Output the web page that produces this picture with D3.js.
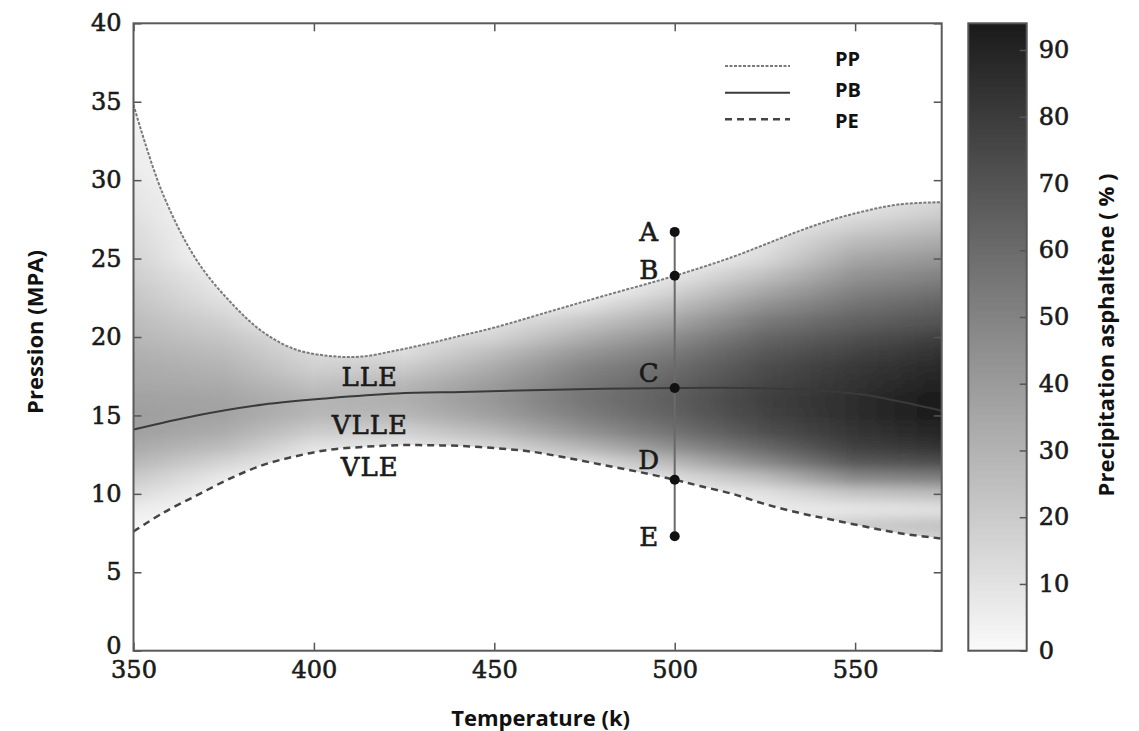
<!DOCTYPE html>
<html>
<head>
<meta charset="utf-8">
<script src="https://cdn.jsdelivr.net/npm/d3@7"></script>
<style>
  body { margin: 0; background: #fff; }
  .axis text { font-family: "DejaVu Serif", serif; font-size: 24px; fill: #1a1a1a; stroke: #1a1a1a; stroke-width: 0.6px; }
  .axis line { stroke: #555; stroke-width: 1.5; }
  .axis-title { font-family: "Open Sans", sans-serif; font-weight: 700; font-size: 22px; fill: #111; }
  .legend-label { font-family: "Open Sans", sans-serif; font-weight: 700; font-size: 20px; fill: #111; }
  .point-label, .region-label { font-family: "DejaVu Serif", serif; font-size: 26px; fill: #1a1a1a; stroke: #1a1a1a; stroke-width: 0.6px; }
  .region-label { letter-spacing: 1px; }
</style>
</head>
<body>
<div id="chart"></div>
<script>
// ---- values (T in K, P in MPa) ----
const ppCurve = [[350, 34.8], [358, 29.2], [367.5, 24.9], [377, 22.2], [386, 20.3], [395, 19.2],
  [404, 18.8], [413, 18.75], [423, 19.15], [432, 19.6], [441, 20.1], [450, 20.6], [465, 21.6],
  [480, 22.6], [500, 23.9], [516, 25.1], [525, 25.9], [535, 26.8], [544, 27.5], [553, 28.05],
  [562, 28.45], [574, 28.6]];

const pbCurve = [[350, 14.1], [367.5, 15.0], [386, 15.7], [404, 16.1], [423, 16.4], [441, 16.5],
  [460, 16.6], [480, 16.7], [500, 16.75], [520, 16.75], [535, 16.65], [553, 16.3], [562, 15.9],
  [574, 15.3]];

const peCurve = [[350, 7.6], [358, 8.76], [367.5, 9.9], [377, 11.0], [386, 11.85], [395, 12.4],
  [404, 12.8], [414, 13.0], [423, 13.1], [432, 13.1], [441, 13.05], [451, 12.9], [460, 12.7],
  [470, 12.3], [480, 11.85], [490, 11.4], [500, 10.9], [507, 10.5], [516, 10.0], [525, 9.35],
  [535, 8.76], [544, 8.33], [553, 7.9], [562, 7.5], [574, 7.15]];

// points on the isotherm T = 500 K
const pointNames = ['A', 'B', 'C', 'D', 'E'];
const pointPressures = [26.7, 23.9, 16.75, 10.9, 7.3];
const pointTemp = 500;

const regionNames = ['LLE', 'VLLE', 'VLE'];
const regionPressures = [17.5, 14.4, 11.75];
const regionTemp = 415.5;

// precipitated asphaltene (%) on a coarse grid
const gridTemps = [350, 375, 400, 425, 450, 475, 500, 525, 550, 574];
const gridPressures = [35, 34, 33, 32, 31, 30, 29, 28, 27, 26, 25, 24, 23, 22, 21, 20, 19, 18,
  17, 16, 15, 14, 13, 12, 11, 10, 9, 8, 7];
const gridValues = [
  [2, 0, 0, 0, 0, 0, 0, 0, 0, 0],
  [3, 0, 0, 0, 0, 0, 0, 0, 0, 0],
  [4, 0, 0, 0, 0, 0, 0, 0, 0, 0],
  [5, 0, 0, 0, 0, 0, 0, 0, 0, 0],
  [6, 0, 0, 0, 0, 0, 0, 0, 0, 0],
  [7, 0, 0, 0, 0, 0, 0, 0, 0, 10],
  [9, 0, 0, 0, 0, 0, 0, 0, 6, 14],
  [10, 0, 0, 0, 0, 0, 0, 0, 10, 18],
  [12, 0, 0, 0, 0, 0, 0, 6, 18, 26],
  [14, 0, 0, 0, 0, 0, 0, 10, 27, 34],
  [16, 0, 0, 0, 0, 0, 0, 14, 35, 42],
  [18, 6, 0, 0, 0, 0, 8, 24, 43, 50],
  [21, 8, 0, 0, 0, 0, 16, 34, 50, 57],
  [23, 12, 0, 0, 0, 10, 26, 44, 57, 64],
  [26, 17, 0, 0, 10, 22, 36, 54, 64, 70],
  [28, 22, 10, 10, 16, 32, 46, 62, 71, 78],
  [31, 26, 14, 12, 26, 42, 54, 68, 77, 84],
  [33, 30, 18, 20, 34, 50, 60, 73, 82, 88],
  [35, 33, 24, 28, 40, 54, 64, 76, 84, 91],
  [37, 36, 30, 32, 42, 56, 66, 78, 86, 94],
  [38, 37, 28, 28, 38, 52, 64, 77, 86, 94],
  [38, 33, 20, 18, 28, 44, 58, 72, 83, 90],
  [34, 26, 10, 8, 15, 30, 46, 62, 78, 84],
  [28, 16, 3, 2, 5, 12, 28, 48, 68, 72],
  [20, 7, 0, 0, 0, 4, 12, 26, 48, 52],
  [13, 2, 0, 0, 0, 0, 4, 10, 22, 26],
  [6, 0, 0, 0, 0, 0, 0, 6, 8, 10],
  [2, 0, 0, 0, 0, 0, 0, 6, 20, 24],
  [0, 0, 0, 0, 0, 0, 0, 4, 12, 16]
];

const xTicks = [350, 400, 450, 500, 550];
const yTicks = [0, 5, 10, 15, 20, 25, 30, 35, 40];
const cbTicks = [0, 10, 20, 30, 40, 50, 60, 70, 80, 90];

class PhaseChart {

  constructor(_config) {
    this.config = {
      parentElement: _config.parentElement,
      containerWidth: _config.containerWidth || 1139,
      containerHeight: _config.containerHeight || 731,
      plot: { left: 133.5, right: 941.7, top: 23.3, bottom: 650.7 },
      bar: { left: 968.3, right: 1026.7 }
    };
    this.initVis();
  }

  initVis() {
    let vis = this;
    const p = vis.config.plot;

    vis.xScale = d3.scaleLinear().domain([350, 574]).range([p.left, p.right]);
    vis.yScale = d3.scaleLinear().domain([0, 40]).range([p.bottom, p.top]);
    vis.cScale = d3.scaleLinear().domain([0, 94]).range([p.bottom, p.top]);
    vis.color = d3.scaleLinear().domain([0, 94]).range(['#fafafa', '#1a1a1a']);

    vis.svg = d3.select(vis.config.parentElement)
      .append('svg')
      .attr('width', vis.config.containerWidth)
      .attr('height', vis.config.containerHeight);

    vis.defs = vis.svg.append('defs');

    vis.renderVis();
  }

  renderVis() {
    let vis = this;
    const p = vis.config.plot;
    const x = vis.xScale, y = vis.yScale;
    const curve = d3.curveCatmullRom.alpha(0.5);

    const line = d3.line().x(d => x(d[0])).y(d => y(d[1])).curve(curve);

    // clip regions: below PP and above PE
    vis.defs.append('clipPath').attr('id', 'belowPP').append('path')
      .attr('d', d3.area().x(d => x(d[0])).y0(p.bottom).y1(d => y(d[1])).curve(curve)(ppCurve));
    vis.defs.append('clipPath').attr('id', 'abovePE').append('path')
      .attr('d', d3.area().x(d => x(d[0])).y0(p.top).y1(d => y(d[1])).curve(curve)(peCurve));
    vis.defs.append('clipPath').attr('id', 'plotArea').append('rect')
      .attr('x', p.left).attr('y', p.top)
      .attr('width', p.right - p.left).attr('height', p.bottom - p.top);

    const blur = vis.defs.append('filter').attr('id', 'vblur')
      .attr('x', '-5%').attr('y', '-5%').attr('width', '110%').attr('height', '110%');
    blur.append('feGaussianBlur').attr('stdDeviation', '0 6');

    // one row per pressure, colour along T through a horizontal gradient
    const x0 = x(gridTemps[0]), x1 = x(gridTemps[gridTemps.length - 1]);
    gridPressures.forEach((pr, i) => {
      const g = vis.defs.append('linearGradient').attr('id', `row${i}`)
        .attr('gradientUnits', 'userSpaceOnUse')
        .attr('x1', x0).attr('x2', x1).attr('y1', 0).attr('y2', 0);
      g.selectAll('stop').data(gridValues[i]).join('stop')
        .attr('offset', (d, j) => (x(gridTemps[j]) - x0) / (x1 - x0))
        .attr('stop-color', d => vis.color(d));
    });

    const heat = vis.svg.append('g').attr('clip-path', 'url(#plotArea)')
      .append('g').attr('clip-path', 'url(#belowPP)')
      .append('g').attr('clip-path', 'url(#abovePE)')
      .append('g').attr('filter', 'url(#vblur)');

    heat.selectAll('rect').data(gridPressures).join('rect')
      .attr('x', x0).attr('width', x1 - x0)
      .attr('y', d => y(d + 0.5))
      .attr('height', d => y(d - 0.5) - y(d + 0.5) + 0.5)
      .attr('fill', (d, i) => `url(#row${i})`);

    // boundary curves
    const curves = vis.svg.append('g').attr('clip-path', 'url(#plotArea)').attr('fill', 'none');
    curves.append('path').attr('d', line(ppCurve))
      .attr('stroke', '#7a7a7a').attr('stroke-width', 2).attr('stroke-dasharray', '3,1.5');
    curves.append('path').attr('d', line(pbCurve))
      .attr('stroke', '#3a3a3a').attr('stroke-width', 2);
    curves.append('path').attr('d', line(peCurve))
      .attr('stroke', '#444').attr('stroke-width', 2.5).attr('stroke-dasharray', '7,5');

    // axes with inward ticks (mirrored)
    const addAxis = (axis, tx, ty) => {
      const g = vis.svg.append('g').attr('class', 'axis')
        .attr('transform', `translate(${tx},${ty})`).call(axis);
      g.select('.domain').remove();
      return g;
    };
    const yAxisG = addAxis(d3.axisLeft(y).tickValues(yTicks).tickSize(-8).tickPadding(12), p.left, 0);
    // the 0 label sits a little high so it clears the 350 label
    yAxisG.selectAll('.tick text').filter(d => d === 0).attr('dy', '0.1em');
    addAxis(d3.axisRight(y).tickValues(yTicks).tickSize(-8).tickFormat(''), p.right, 0);
    addAxis(d3.axisBottom(x).tickValues(xTicks).tickSize(-8).tickPadding(10), 0, p.bottom);
    addAxis(d3.axisTop(x).tickValues(xTicks).tickSize(-8).tickFormat(''), 0, p.top);

    vis.svg.append('rect')
      .attr('x', p.left).attr('y', p.top)
      .attr('width', p.right - p.left).attr('height', p.bottom - p.top)
      .attr('fill', 'none').attr('stroke', '#5a5a5a').attr('stroke-width', 2);

    // isotherm and its points
    vis.svg.append('line')
      .attr('x1', x(pointTemp)).attr('x2', x(pointTemp))
      .attr('y1', y(d3.max(pointPressures))).attr('y2', y(d3.min(pointPressures)))
      .attr('stroke', '#6a6a6a').attr('stroke-width', 2);

    vis.svg.selectAll('.pt').data(pointPressures).join('circle')
      .attr('class', 'pt')
      .attr('cx', x(pointTemp)).attr('cy', d => y(d)).attr('r', 5)
      .attr('fill', '#111');

    const labelShift = [0, -6, -15, -20, 0];
    vis.svg.selectAll('.point-label').data(pointPressures).join('text')
      .attr('class', 'point-label')
      .attr('x', x(pointTemp) - 26)
      .attr('y', (d, i) => y(d) + labelShift[i])
      .attr('dy', '0.36em')
      .attr('text-anchor', 'middle')
      .text((d, i) => pointNames[i]);

    vis.svg.selectAll('.region-label').data(regionPressures).join('text')
      .attr('class', 'region-label')
      .attr('x', x(regionTemp)).attr('y', d => y(d))
      .attr('dy', '0.36em')
      .attr('text-anchor', 'middle')
      .text((d, i) => regionNames[i]);

    // legend
    const legend = vis.svg.append('g');
    const legendItems = [
      { name: 'PP', y: 66, ty: 66, stroke: '#7a7a7a', width: 2, dash: '3,1.5' },
      { name: 'PB', y: 92.7, ty: 97, stroke: '#3a3a3a', width: 2, dash: null },
      { name: 'PE', y: 119.3, ty: 128, stroke: '#444', width: 2.5, dash: '7,5' }
    ];
    legendItems.forEach(d => {
      legend.append('line')
        .attr('x1', 725).attr('x2', 790).attr('y1', d.y).attr('y2', d.y)
        .attr('stroke', d.stroke).attr('stroke-width', d.width)
        .attr('stroke-dasharray', d.dash);
      legend.append('text').attr('class', 'legend-label')
        .attr('x', 835).attr('y', d.ty).text(d.name);
    });

    // colour bar
    const b = vis.config.bar;
    const cb = vis.defs.append('linearGradient').attr('id', 'cbGrad')
      .attr('gradientUnits', 'userSpaceOnUse')
      .attr('x1', 0).attr('x2', 0).attr('y1', vis.cScale(0)).attr('y2', vis.cScale(94));
    cb.selectAll('stop').data([0, 94]).join('stop')
      .attr('offset', (d, i) => i)
      .attr('stop-color', d => vis.color(d));

    vis.svg.append('rect')
      .attr('x', b.left).attr('y', p.top)
      .attr('width', b.right - b.left).attr('height', p.bottom - p.top)
      .attr('fill', 'url(#cbGrad)').attr('stroke', '#555').attr('stroke-width', 2);

    addAxis(d3.axisRight(vis.cScale).tickValues(cbTicks).tickSize(-7).tickPadding(12), b.right, 0);

    // titles
    vis.svg.append('text').attr('class', 'axis-title')
      .attr('x', (p.left + p.right) / 2 + 3).attr('y', 726)
      .attr('text-anchor', 'middle').text('Temperature (k)');

    vis.svg.append('text').attr('class', 'axis-title')
      .attr('transform', 'translate(43,332) rotate(-90)')
      .attr('text-anchor', 'middle').text('Pression (MPA)');

    vis.svg.append('text').attr('class', 'axis-title')
      .attr('transform', 'translate(1114,335) rotate(-90)')
      .attr('text-anchor', 'middle').text('Precipitation asphaltène ( % )');
  }
}

new PhaseChart({ parentElement: '#chart' });
</script>
</body>
</html>
